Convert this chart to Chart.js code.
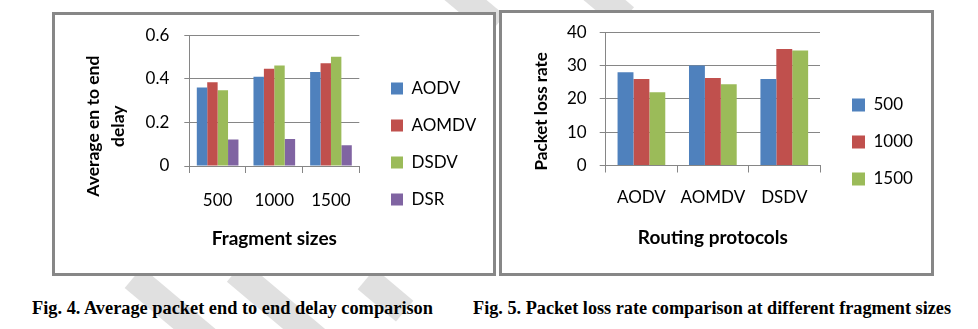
<!DOCTYPE html>
<html lang="en">
<head>
<meta charset="UTF-8">
<title>Fig. 4 / Fig. 5</title>
<script src="https://cdn.jsdelivr.net/npm/chart.js"></script>
<style>
  body { margin: 0; width: 978px; height: 329px; background: #fff; position: relative; overflow: hidden; }
  .stripe { position: absolute; background: #e0e0e0; width: 27px; transform: rotate(-50deg); }
  .frame { position: absolute; box-sizing: border-box; border: 3px solid #878787; background: #fff; }
  .frame canvas { display: block; }
  .cap { position: absolute; top: 298px; font: bold 18px "Liberation Serif", serif; line-height: 20px; white-space: nowrap; transform-origin: 0 50%; color: #000; }
</style>
</head>
<body>
  <!-- faint watermark bands behind everything -->
  <div class="stripe" style="left:162px; top:258px; height:110px;"></div>
  <div class="stripe" style="left:268px; top:250px; height:120px;"></div>
  <div class="stripe" style="left:372px; top:270px; height:50px;"></div>
  <div class="stripe" style="left:452px; top:-40px; height:80px;"></div>
  <div class="stripe" style="left:585px; top:-40px; height:70px;"></div>

  <div class="frame" style="left:52px; top:12px; width:444px; height:264px;">
    <canvas id="delayChart" width="438" height="258"></canvas>
  </div>
  <div class="frame" style="left:499px; top:10px; width:435px; height:266px;">
    <canvas id="lossChart" width="429" height="260"></canvas>
  </div>

  <div class="cap" data-w="401" style="left:32px;">Fig. 4. Average packet end to end delay comparison</div>
  <div class="cap" data-w="478" style="left:473px;">Fig. 5. Packet loss rate comparison at different fragment sizes</div>

<script>
// Fig. 4 data
const fragmentSizes = ['500', '1000', '1500'];
const delayAODV  = [0.36, 0.41, 0.432];
const delayAOMDV = [0.385, 0.447, 0.472];
const delayDSDV  = [0.348, 0.461, 0.502];
const delayDSR   = [0.122, 0.124, 0.095];
const delayTicks = [0, 0.2, 0.4, 0.6];

// Fig. 5 data
const routingProtocols = ['AODV', 'AOMDV', 'DSDV'];
const loss500  = [28, 30, 26];
const loss1000 = [26, 26.3, 35];
const loss1500 = [22, 24.4, 34.5];
const lossTicks = [0, 10, 20, 30, 40];

const BLUE = '#4F81BD', RED = '#C0504D', GREEN = '#9BBB59', PURPLE = '#8064A2';
const GRID = '#868686';
const FONT = 'Lato, "Open Sans", sans-serif';

Chart.defaults.color = '#000';
Chart.defaults.font.family = FONT;

// legend gets a fixed width so the plot area ends where it does in the figure
const legendWidth = {
    id: 'legendWidth',
    afterInit(chart, args, opts) {
        const legend = chart.legend;
        const fit = legend.fit;
        legend.fit = function () {
            fit.call(this);
            this.width = opts.width;
        };
    }
};

// the y titles sit below the middle of the plot in the figure,
// trailing spaces push the centred text down by half their width
function padTitle(text, shift, size) {
    const ctx = document.createElement('canvas').getContext('2d');
    ctx.font = `bold ${size}px ${FONT}`;
    const n = Math.round(2 * shift / ctx.measureText(' ').width);
    return text + ' '.repeat(n);
}

let delayChart = new Chart(document.getElementById('delayChart'), {
    type: 'bar',
    data: {
        labels: fragmentSizes,
        datasets: [
            { label: 'AODV',  data: delayAODV,  backgroundColor: BLUE },
            { label: 'AOMDV', data: delayAOMDV, backgroundColor: RED },
            { label: 'DSDV',  data: delayDSDV,  backgroundColor: GREEN },
            { label: 'DSR',   data: delayDSR,   backgroundColor: PURPLE }
        ]
    },
    plugins: [legendWidth],
    options: {
        responsive: false,
        animation: false,
        categoryPercentage: 0.735,
        barPercentage: 1,
        layout: { padding: { left: 0, top: 20.3, right: 0, bottom: 20.3 } },
        plugins: {
            legendWidth: { width: 122 },
            legend: {
                position: 'right',
                labels: { boxWidth: 12, boxHeight: 12, padding: 20, font: { size: 17 } }
            },
            tooltip: { enabled: false }
        },
        scales: {
            x: {
                grid: { drawOnChartArea: false, tickLength: 7, color: GRID },
                border: { color: GRID },
                ticks: { font: { size: 17 }, padding: 17, maxRotation: 0 },
                title: { display: true, text: 'Fragment sizes', font: { size: 19, weight: 'bold' }, padding: { top: 0, bottom: 2.3 } },
                afterFit(s) { s.height = 86.7; }
            },
            y: {
                min: delayTicks[0],
                max: delayTicks[delayTicks.length - 1],
                ticks: { stepSize: delayTicks[1] - delayTicks[0], font: { size: 17, lineHeight: 0.6 }, padding: 15 },
                grid: { color: GRID, tickLength: 5 },
                border: { color: GRID },
                title: {
                    display: true,
                    text: [padTitle('Average en to end', 26, 17.5), padTitle('delay', 26, 17.5)],
                    font: { size: 17.5, weight: 'bold', lineHeight: 1.43 },
                    padding: { top: 25.5, bottom: 0 }
                },
                afterFit(s) { s.width = 134.3; }
            },
            gap: {
                position: 'right',
                grid: { display: false },
                border: { display: false },
                ticks: { display: false },
                afterFit(s) { s.width = 11.7; }
            }
        }
    }
});

let lossChart = new Chart(document.getElementById('lossChart'), {
    type: 'bar',
    data: {
        labels: routingProtocols,
        datasets: [
            { label: '500',  data: loss500,  backgroundColor: BLUE },
            { label: '1000', data: loss1000, backgroundColor: RED },
            { label: '1500', data: loss1500, backgroundColor: GREEN }
        ]
    },
    plugins: [legendWidth],
    options: {
        responsive: false,
        animation: false,
        categoryPercentage: 0.668,
        barPercentage: 1,
        layout: { padding: { left: 0, top: 19.3, right: 0, bottom: 21.3 } },
        plugins: {
            legendWidth: { width: 99 },
            legend: {
                position: 'right',
                labels: { boxWidth: 13, boxHeight: 13, padding: 20, font: { size: 17 } }
            },
            tooltip: { enabled: false }
        },
        scales: {
            x: {
                grid: { drawOnChartArea: false, tickLength: 7, color: GRID },
                border: { color: GRID },
                ticks: { font: { size: 17 }, padding: 15.3, maxRotation: 0 },
                title: { display: true, text: 'Routing protocols', font: { size: 19, weight: 'bold' }, padding: { top: 0, bottom: 2.3 } },
                afterFit(s) { s.height = 86.2; }
            },
            y: {
                min: lossTicks[0],
                max: lossTicks[lossTicks.length - 1],
                ticks: { stepSize: lossTicks[1] - lossTicks[0], font: { size: 17, lineHeight: 0.6 }, padding: 13 },
                grid: { color: GRID, tickLength: 6 },
                border: { color: GRID },
                title: {
                    display: true,
                    text: padTitle('Packet loss rate', 13, 17),
                    font: { size: 17, weight: 'bold' },
                    padding: { top: 29.8, bottom: 0 }
                },
                afterFit(s) { s.width = 103.7; }
            },
            gap: {
                position: 'right',
                grid: { display: false },
                border: { display: false },
                ticks: { display: false },
                afterFit(s) { s.width = 12; }
            }
        }
    }
});

// squeeze the captions to the widths they have in the figure
document.querySelectorAll('.cap').forEach(el => {
    const w = el.getBoundingClientRect().width;
    el.style.transform = `scaleX(${el.dataset.w / w})`;
});
</script>
</body>
</html>
